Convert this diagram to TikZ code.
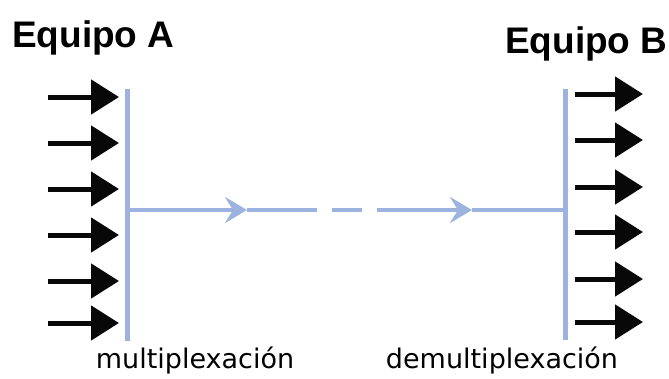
\documentclass[tikz,border=0pt]{standalone}
\usepackage{fontspec}
\setmainfont{DejaVu Sans}
\newfontfamily\headfont{Liberation Sans}
\usetikzlibrary{arrows.meta,positioning}
\definecolor{MuxBlue}{HTML}{9BB3DE}
\definecolor{SigBlack}{HTML}{080808}
\tikzset{
  chanarrow/.style={-{Triangle[length=28pt,width=34pt]},line width=5pt,draw=SigBlack},
  muxbar/.style={line width=5pt,draw=MuxBlue},
  linkline/.style={line width=4pt,draw=MuxBlue},
  linkarrow/.style={linkline,-{Stealth[length=22pt,width=26pt,inset=8pt]}},
  teamlabel/.style={font=\headfont\fontsize{37}{40}\selectfont\bfseries,inner sep=0pt,anchor=base west},
  stagelabel/.style={font=\fontsize{27}{30}\selectfont,inner sep=0pt,anchor=base}
}

\begin{document}
\begin{tikzpicture}[x=1pt,y=-1pt]
\useasboundingbox (0,0) rectangle (669,378);
% sending side
\node[teamlabel] (eqA) at (12,47) {Equipo A};
\coordinate (muxTop) at (127,89);
\coordinate (muxBot) at (127,341);
\coordinate (mux) at (127,210);
\draw[muxbar] (muxTop) -- (muxBot);
\foreach \i/\y in {1/97,2/143,3/189,4/235,5/281,6/323} {
  \coordinate (in\i) at (48,\y);
  \coordinate (inTip\i) at (119,\y);
  \draw[chanarrow] (in\i) -- (inTip\i);
}
% receiving side
\node[teamlabel] (eqB) at (505,53) {Equipo B};
\coordinate (demuxTop) at (565,89);
\coordinate (demuxBot) at (565,340);
\coordinate (demux) at (565,210);
\draw[muxbar] (demuxTop) -- (demuxBot);
\foreach \i/\y in {1/94,2/140,3/187,4/232,5/279,6/322} {
  \coordinate (out\i) at (575,\y);
  \coordinate (outTip\i) at (643,\y);
  \draw[chanarrow] (out\i) -- (outTip\i);
}
% shared link, broken in the middle
\coordinate (midA) at (247,210);
\coordinate (gapA) at (317,210);
\coordinate (dashA) at (332,210);
\coordinate (dashB) at (362,210);
\coordinate (gapB) at (377,210);
\coordinate (midB) at (472,210);
\draw[linkarrow] (mux) -- (midA);
\draw[linkline] (midA) -- (gapA);
\draw[linkline] (dashA) -- (dashB);
\draw[linkarrow] (gapB) -- (midB);
\draw[linkline] (midB) -- (demux);
% stage names
\node[stagelabel] (muxName) at (195,368) {multiplexación};
\node[stagelabel] (demuxName) at (502,368) {demultiplexación};
\end{tikzpicture}
\end{document}
